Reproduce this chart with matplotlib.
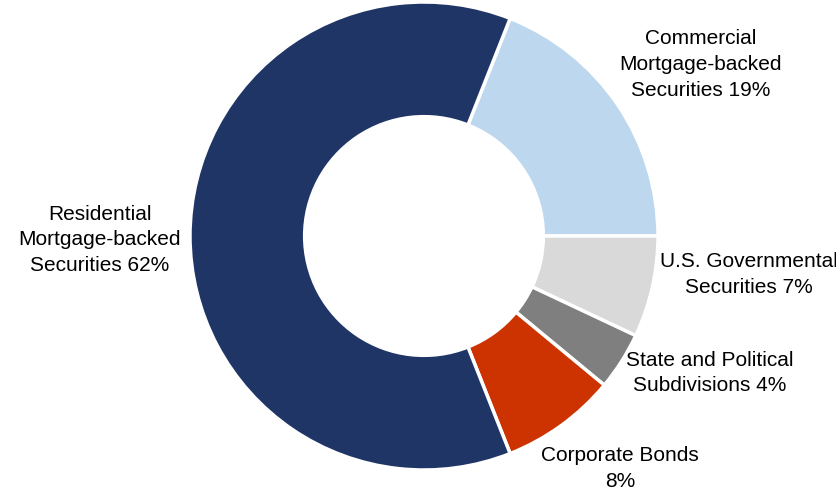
import matplotlib.pyplot as plt
import numpy as np

labels = ['Commercial\nMortgage-backed\nSecurities 19%',
          'U.S. Governmental\nSecurities 7%',
          'State and Political\nSubdivisions 4%',
          'Corporate Bonds\n8%',
          'Residential\nMortgage-backed\nSecurities 62%']
shares = [19, 7, 4, 8, 62]
colors = ['#BDD7EE', '#D9D9D9', '#7F7F7F', '#CC3300', '#1F3566']

# label placement: distance from centre (in radii) and angle shift from wedge middle (deg)
label_dist = [1.39, 1.40, 1.355, 1.30, 1.385]
label_shift = [-2.4, 5.8, 6.8, 4.2, 0.7]

plt.rcParams['font.family'] = ['Liberation Sans', 'DejaVu Sans']

fig = plt.figure(figsize=(8.37, 4.97), dpi=100)
ax = fig.add_axes([0, 0, 1, 1])

start = 68.4
wedges, _ = ax.pie(shares, colors=colors, startangle=start, counterclock=False,
                   radius=1, wedgeprops=dict(width=0.49, edgecolor='white', linewidth=2.5))

for w, lab, d, s in zip(wedges, labels, label_dist, label_shift):
    ang = np.deg2rad((w.theta1 + w.theta2) / 2 + s)
    ax.text(d * np.cos(ang), d * np.sin(ang), lab, ha='center', va='center',
            fontsize=15, linespacing=1.45, color='black')

r = 234.0
cx, cy = 424.0, 236.0
ax.set_xlim(-cx / r, (837 - cx) / r)
ax.set_ylim(-(497 - cy) / r, cy / r)
ax.set_aspect('auto')
ax.axis('off')

fig.savefig('out.png', dpi=100)
